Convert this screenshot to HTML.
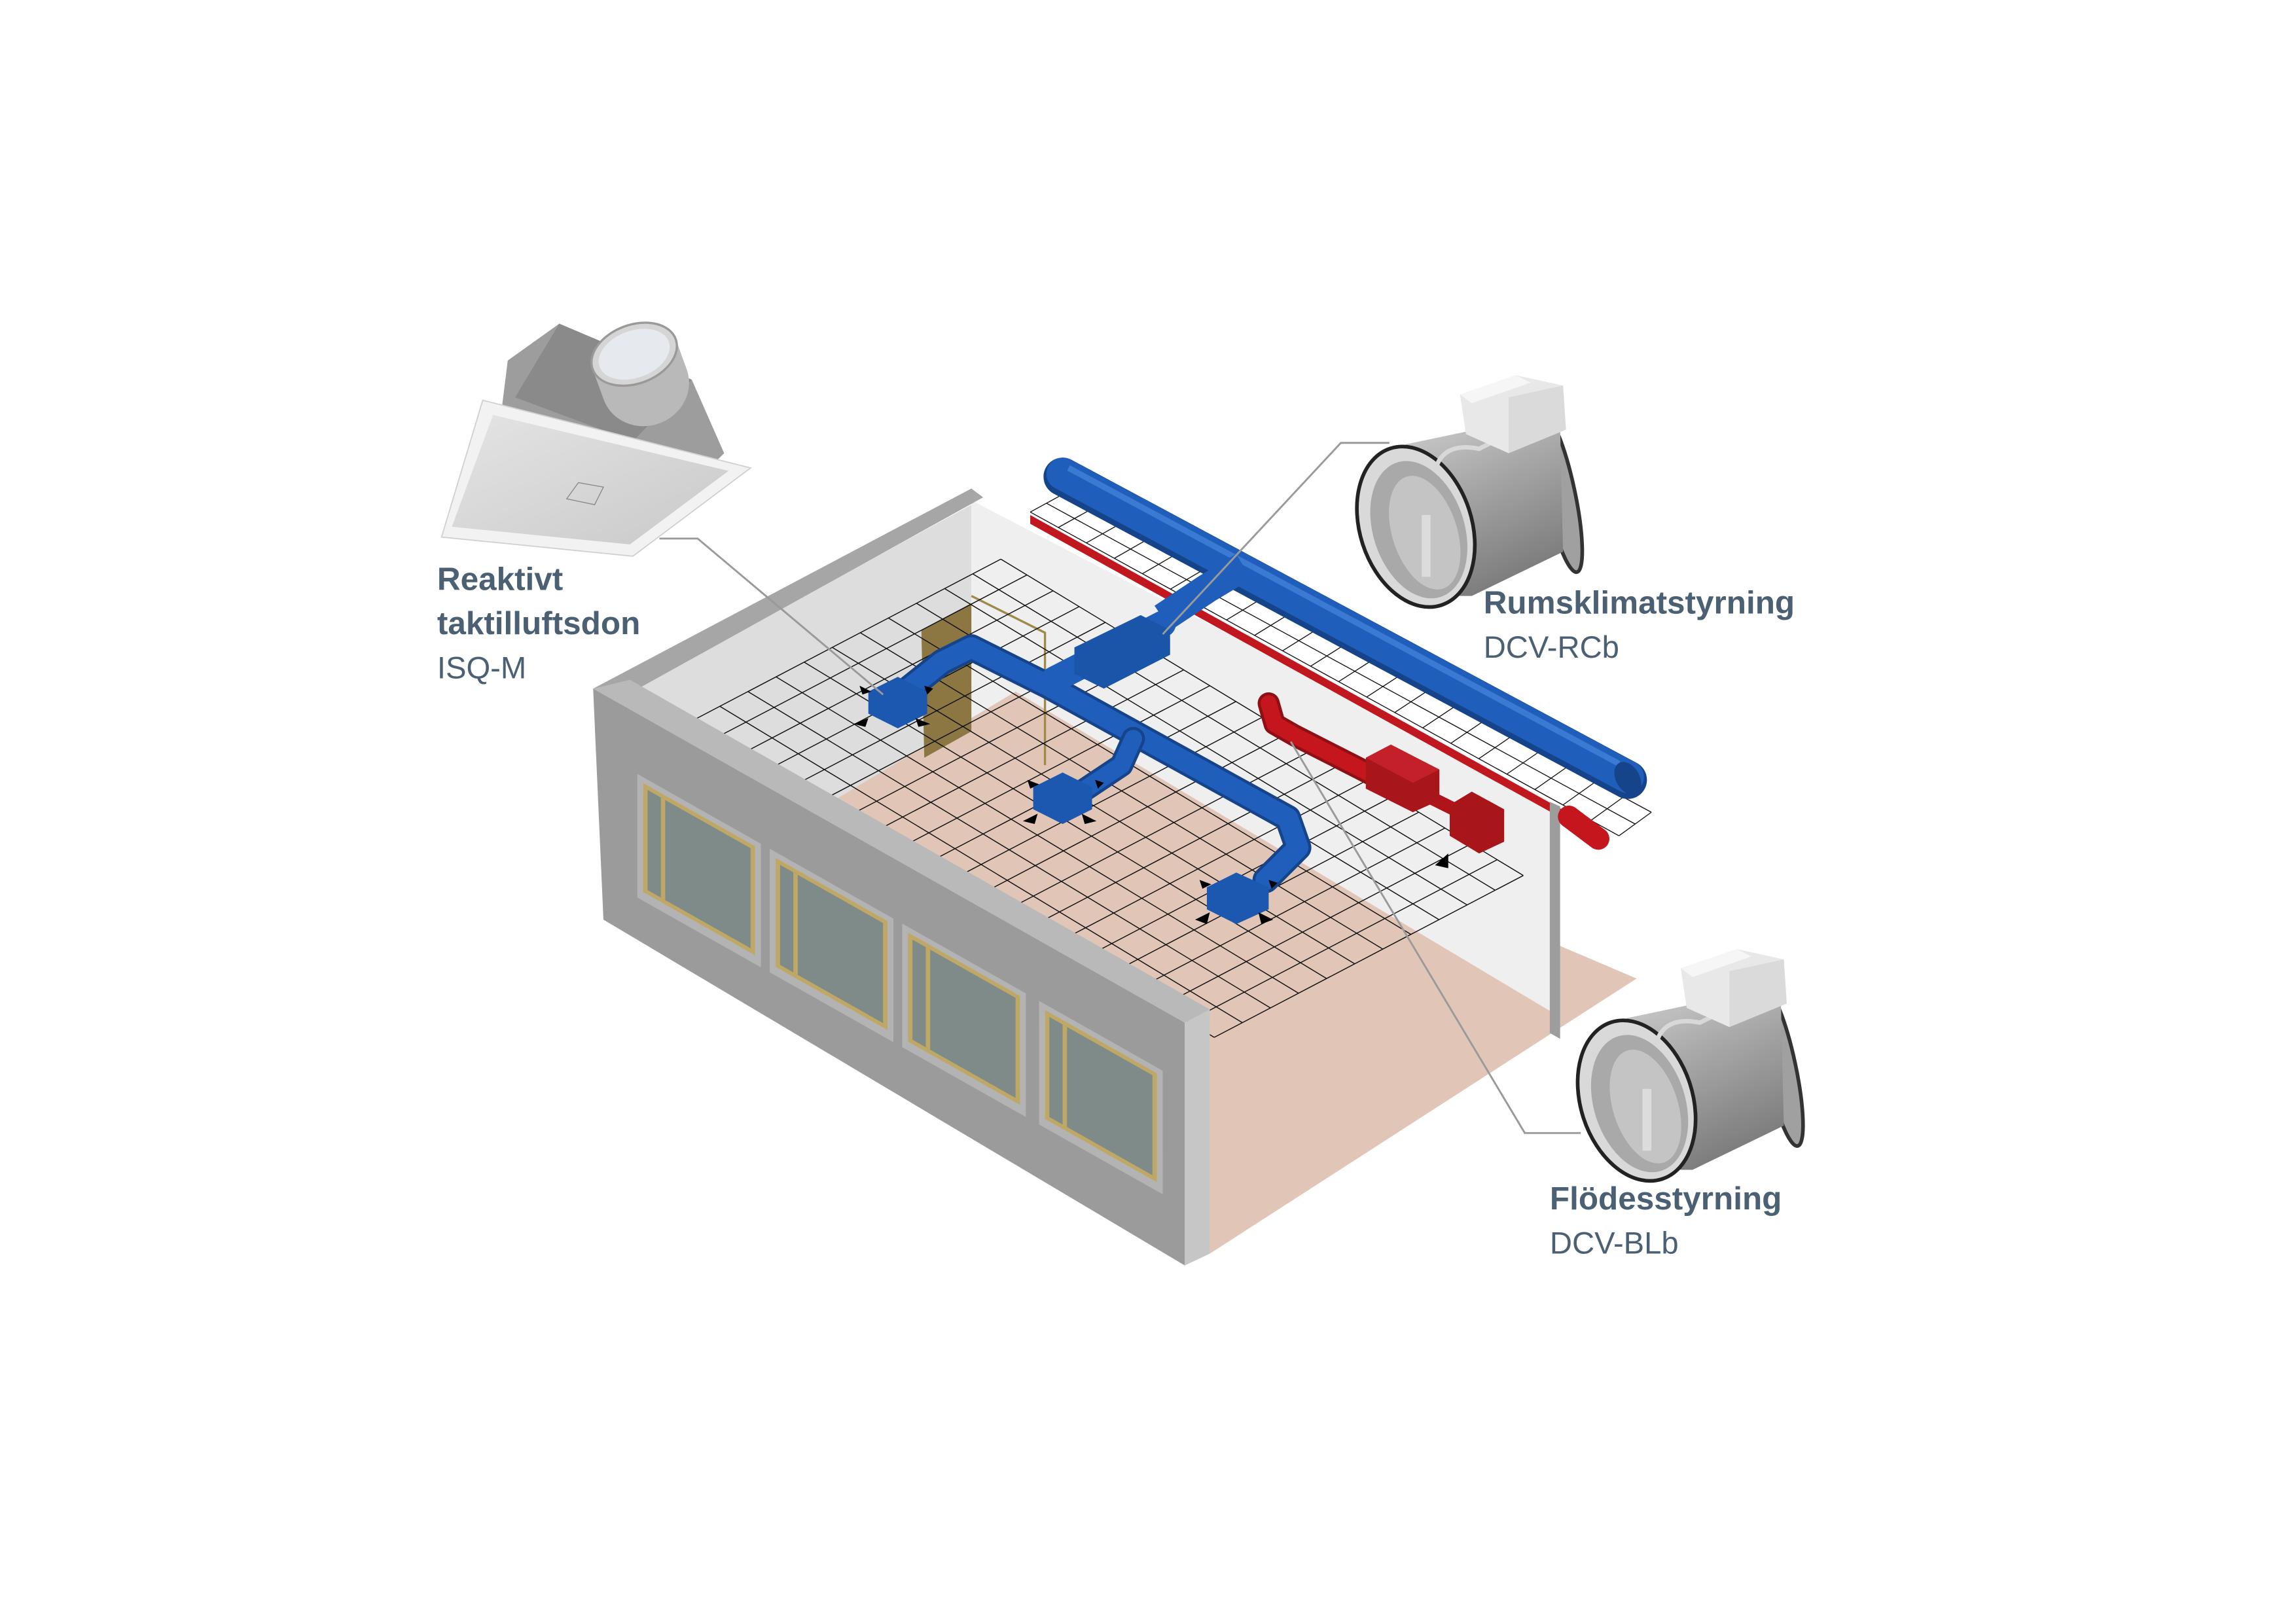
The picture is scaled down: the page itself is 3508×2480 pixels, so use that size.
<!DOCTYPE html>
<html><head><meta charset="utf-8"><style>
html,body{margin:0;padding:0;background:#fff;}
svg{display:block;}
.t{font-family:"Liberation Sans",sans-serif;fill:#4b6073;}
</style></head><body>
<svg id="s" width="3508" height="2480" viewBox="0 0 1560 1103" preserveAspectRatio="none" xmlns="http://www.w3.org/2000/svg">
<defs>
<linearGradient id="cyl" x1="0" y1="0" x2="0.4" y2="1">
<stop offset="0" stop-color="#d0d0d0"/><stop offset="0.45" stop-color="#a9a9a9"/><stop offset="1" stop-color="#7e7e7e"/></linearGradient>
<linearGradient id="plate" x1="0" y1="0" x2="1" y2="1">
<stop offset="0" stop-color="#e4e4e4"/><stop offset="1" stop-color="#c9c9c9"/></linearGradient>
</defs>
<rect width="1560" height="1103" fill="#fff"/>

<polygon points="428,470 660,343 660,500 565,548 430,476" fill="#dddddd"/>
<polygon points="660,340 1060,548 1060,705 660,495" fill="#efefef"/>
<polygon points="565,545 690,470 1058,690 1058,642 1112,665 822,852 822,700" fill="#e1c6b7"/>
<polygon points="700,345 724,333 1122,548 1100,570" fill="#fff"/>
<g id="strip" stroke="#111" stroke-width="0.6"></g>
<polygon points="700,350 1090,566 1090,572 700,356" fill="#c0181e"/>
<polygon points="626,428 660,410 660,497 628,515" fill="#8c7642"/>
<polyline points="660,405 710,430 710,520" fill="none" stroke="#a08a4a" stroke-width="1.5"/>
<g id="grid" stroke="#111" stroke-width="0.65"></g>
<polygon points="1053,545 1060,548 1060,706 1053,702" fill="#9d9d9d"/>

<line x1="722" y1="324" x2="1106" y2="530" stroke="#15448a" stroke-width="26" stroke-linecap="round"/>
<line x1="722" y1="322" x2="1106" y2="528" stroke="#1f5fbb" stroke-width="22" stroke-linecap="round"/>
<line x1="726" y1="318" x2="1100" y2="519" stroke="#3a7ad2" stroke-width="4"/>
<ellipse cx="1106" cy="529" rx="8" ry="12" transform="rotate(-30 1106 529)" fill="#15448a"/>
<polyline points="845,385 820,400 790,420" fill="none" stroke="#1f5fbb" stroke-width="20"/>
<g fill="none" stroke-linecap="round" stroke-linejoin="round">
<polyline points="615,470 640,450 660,440 712,466 875,556 882,576 860,598" stroke="#15448a" stroke-width="18"/>
<polyline points="615,470 640,450 660,440 712,466 875,556 882,576 860,598" stroke="#1f5fbb" stroke-width="14"/>
<polyline points="770,502 762,520 735,538" stroke="#15448a" stroke-width="16"/>
<polyline points="770,502 762,520 735,538" stroke="#1f5fbb" stroke-width="12"/>
<polyline points="716,462 790,424" stroke="#1f5fbb" stroke-width="18"/>
</g>
<polygon points="730,440 775,418 795,428 795,445 750,468 730,458" fill="#1a55aa"/>
<g fill="#1d58b0">
<polygon points="590,470 610,460 630,470 630,485 610,495 590,485"/>
<polygon points="702,535 722,525 742,535 742,550 722,560 702,550"/>
<polygon points="820,603 840,593 862,603 862,618 840,628 820,618"/>
</g>
<g fill="#000">
<polygon points="580,492 590,488 588,494"/><polygon points="622,488 632,492 624,494"/><polygon points="584,466 592,470 586,472"/><polygon points="628,466 634,468 630,472"/>
<polygon points="695,558 705,553 703,560"/><polygon points="735,553 745,558 737,560"/><polygon points="698,530 706,533 700,536"/><polygon points="744,530 750,532 746,536"/>
<polygon points="812,625 822,620 820,628"/><polygon points="855,620 865,625 857,628"/><polygon points="815,598 823,601 817,604"/><polygon points="862,598 868,600 864,604"/>
<polygon points="975,588 984,580 984,590"/>
</g>
<g fill="none" stroke-linecap="round" stroke-linejoin="round">
<polyline points="862,478 866,492 880,500 935,528" stroke="#8e1014" stroke-width="15"/>
<polyline points="862,478 866,492 880,500 935,528" stroke="#c4161c" stroke-width="11"/>
<line x1="968" y1="540" x2="992" y2="552" stroke="#b0141a" stroke-width="9"/>
<line x1="1066" y1="555" x2="1086" y2="570" stroke="#c4161c" stroke-width="15"/>
</g>
<polygon points="928,515 945,506 978,523 978,544 960,552 928,536" fill="#a8161a"/>
<polygon points="985,547 1000,538 1022,550 1022,572 1005,580 985,568" fill="#a8161a"/>
<polygon points="945,506 978,523 960,532 928,515" fill="#c4202a"/>

<polygon points="403,468 660,332 668,338 430,470" fill="#a6a6a6"/>
<polygon points="403,468 428,462 822,686 805,695" fill="#b9b9b9"/>
<polygon points="403,468 805,695 805,860 410,625" fill="#9b9b9b"/>
<polygon points="805,695 822,686 822,852 805,860" fill="#c6c6c6"/>
<g id="win"></g>

<g fill="none" stroke="#9a9a9a" stroke-width="1.3">
<polyline points="448,366 474,366 600,472"/>
<polyline points="944,301 911,301 790,431"/>
<polyline points="1074,770 1036,770 877,504"/>
</g>

<polygon points="345,245 380,220 470,258 492,308 480,320 340,285" fill="#9d9d9d"/>
<polygon points="380,220 470,258 430,300 350,270" fill="#8a8a8a"/>
<g transform="rotate(-20 435 252)">
<ellipse cx="435" cy="262" rx="30" ry="28" fill="#b9b9b9"/>
<rect x="405" y="240" width="60" height="22" fill="#b9b9b9"/>
<ellipse cx="435" cy="240" rx="30" ry="20" fill="#d5d5d5" stroke="#999" stroke-width="1.5"/>
<ellipse cx="435" cy="240" rx="25" ry="16" fill="#e6eaee"/>
</g>
<polygon points="300,365 328,272 510,318 430,378" fill="#f2f2f2" stroke="#d0d0d0" stroke-width="0.8"/>
<polygon points="307,358 335,282 495,320 428,370" fill="url(#plate)"/>
<polygon points="385,339 393,328 410,331 404,343" fill="none" stroke="#888" stroke-width="0.6"/>

<g id="d1">
<ellipse cx="1060" cy="335" rx="10" ry="55" transform="rotate(-12 1060 335)" fill="#a0a0a0" stroke="#333" stroke-width="2.5"/>
<polygon points="955,302 1050,282 1060,290 1062,375 1000,405 962,405" fill="url(#cyl)"/>
<ellipse cx="962" cy="358" rx="38" ry="56" transform="rotate(-18 962 358)" fill="#d9d9d9" stroke="#222" stroke-width="2.5"/>
<ellipse cx="964" cy="360" rx="31" ry="48" transform="rotate(-18 964 360)" fill="#a9a9a9"/>
<ellipse cx="968" cy="362" rx="22" ry="40" transform="rotate(-18 968 362)" fill="#c4c4c4"/>
<rect x="966" y="350" width="6" height="42" fill="#dcdcdc"/>
<path d="M975 320 Q980 300 1005 305 L1015 300" fill="none" stroke="#d8d8d8" stroke-width="3"/>
<polygon points="992,268 1030,255 1062,262 1064,292 1025,308 996,295" fill="#e8e8e8"/>
<polygon points="992,268 1030,255 1040,260 1000,274" fill="#f6f6f6"/>
<polygon points="1025,270 1062,262 1064,292 1025,308" fill="#dadada"/>
</g>
<use href="#d1" transform="translate(150,390)"/>

<text class="t" x="297" y="401" font-size="22" font-weight="bold">Reaktivt</text>
<text class="t" x="297" y="431" font-size="22" font-weight="bold">taktilluftsdon</text>
<text class="t" x="297" y="461" font-size="21">ISQ-M</text>
<text class="t" x="1008" y="417" font-size="22" font-weight="bold">Rumsklimatstyrning</text>
<text class="t" x="1008" y="447" font-size="21">DCV-RCb</text>
<text class="t" x="1053" y="822" font-size="22" font-weight="bold">Flödesstyrning</text>
<text class="t" x="1053" y="852" font-size="21">DCV-BLb</text>
</svg>
<script>
var NS="http://www.w3.org/2000/svg";
function ln(g,a,b){var l=document.createElementNS(NS,"line");l.setAttribute("x1",a[0]);l.setAttribute("y1",a[1]);l.setAttribute("x2",b[0]);l.setAttribute("y2",b[1]);g.appendChild(l);}
function lerp(a,b,t){return [a[0]+(b[0]-a[0])*t,a[1]+(b[1]-a[1])*t];}
function grid(g,L,T,B,R,n1,n2){
 for(var i=0;i<=n1;i++){var t=i/n1;ln(g,lerp(L,T,t),lerp(B,R,t));}
 for(var j=0;j<=n2;j++){var t=j/n2;ln(g,lerp(L,B,t),lerp(T,R,t));}
}
grid(document.getElementById("grid"),[470,490],[680,380],[825,705],[1035,595],11,20);
grid(document.getElementById("strip"),[700,348],[722,336],[1100,568],[1122,552],2,21);
var w=document.getElementById("win");
[437,527,617,710].forEach(function(x){
 var k=0.565,y0=468+(x-403)*k+45,W=76,H=74;
 function p(dx,dy){return (x+dx)+","+(y0+dx*k+dy);}
 var s=document.createElementNS(NS,"polygon");s.setAttribute("points",[p(-4,-4),p(W+4,-4),p(W+4,H+6),p(-4,H+6)].join(" "));s.setAttribute("fill","#b3b3b3");w.appendChild(s);
 var f=document.createElementNS(NS,"polygon");f.setAttribute("points",[p(0,0),p(W,0),p(W,H),p(0,H)].join(" "));f.setAttribute("fill","#bfa865");w.appendChild(f);
 var g1=document.createElementNS(NS,"polygon");g1.setAttribute("points",[p(3,3),p(W-3,3),p(W-3,H-3),p(3,H-3)].join(" "));g1.setAttribute("fill","#7e8b89");w.appendChild(g1);
 var m=document.createElementNS(NS,"polygon");m.setAttribute("points",[p(12,3),p(15,3),p(15,H-3),p(12,H-3)].join(" "));m.setAttribute("fill","#bfa865");w.appendChild(m);
});
</script>
</body></html>
